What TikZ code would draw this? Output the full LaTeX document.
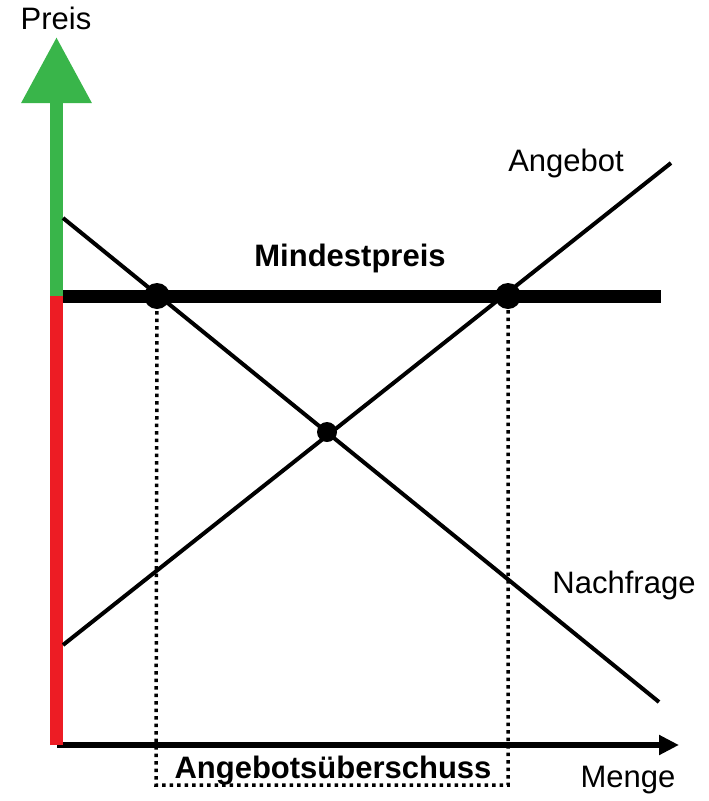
\documentclass[tikz,border=0pt]{standalone}
\usepackage{fontspec}
\setmainfont{Liberation Sans}
\usetikzlibrary{arrows.meta}
\begin{document}
\begin{tikzpicture}[x=1pt,y=-1pt,
  lbl/.style={inner sep=0pt,font=\fontsize{31}{34}\selectfont},
  blbl/.style={inner sep=0pt,font=\fontsize{31}{34}\selectfont\bfseries},
  bigdot/.style={circle,fill=black,inner sep=0pt,minimum size=26pt},
  smalldot/.style={circle,fill=black,inner sep=0pt,minimum size=20pt},
  curve/.style={line width=4pt},
  dotline/.style={line width=3.5pt,dash pattern=on 3.5pt off 4pt}]
\useasboundingbox (0,0) rectangle (709,801);
% coordinates
\coordinate (O) at (56.5,745);
\coordinate (G) at (56.5,296);
\coordinate (Ytop) at (56.5,37);
\coordinate (Xend) at (679,745);
\coordinate (D1) at (63,218);
\coordinate (D2) at (659,702);
\coordinate (S1) at (63,645);
\coordinate (S2) at (671,163);
\coordinate (M1) at (63,296);
\coordinate (M2) at (661,296);
\coordinate (B1) at (156,785);
\coordinate (B2) at (508,785);
% horizontal axis
\draw[line width=5.5pt,-{Triangle[length=20pt,width=19pt]}] (O) -- (Xend);
% vertical axis
\draw[line width=13pt,draw={rgb,255:red,237;green,28;blue,36}] (O) -- (G);
\draw[line width=13pt,draw={rgb,255:red,57;green,181;blue,74},-{Triangle[length=66pt,width=67pt]}] (G) -- (Ytop);
% curves
\draw[curve] (D1) -- (D2);
\draw[curve] (S1) -- (S2);
\draw[line width=13pt] (M1) -- (M2);
% dots
\node[bigdot] (P1) at (157,296) {};
\node[bigdot] (P2) at (508,296) {};
\node[smalldot] (E) at (327,432) {};
% dotted box
\draw[dotline] (P1.center) -- (B1) -- (B2) -- (P2.center);
% labels
\node[lbl] (preis) at (56,18) {Preis};
\node[lbl] (angebot) at (566,163) {Angebot};
\node[lbl] (nachfrage) at (624,585) {Nachfrage};
\node[lbl] (menge) at (628,780) {Menge};
\node[blbl] (mindest) at (350,258) {Mindestpreis};
\node[blbl] (ueber) at (333,771) {Angebotsüberschuss};
\end{tikzpicture}
\end{document}
